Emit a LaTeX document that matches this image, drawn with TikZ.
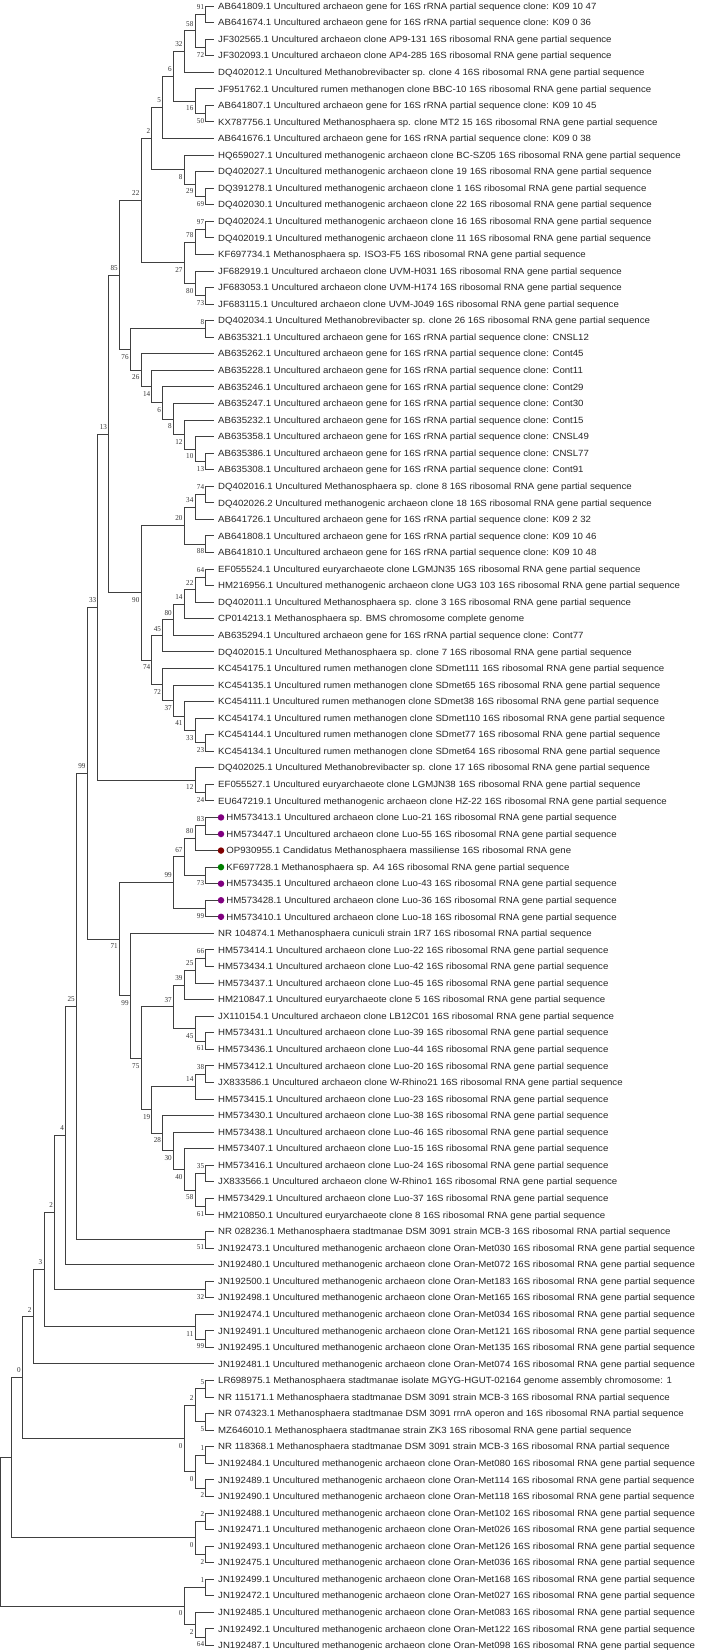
\documentclass[tikz,border=0pt]{standalone}
\usepackage{fontspec}
\newfontfamily\leaffont[FakeStretch=1.07]{Liberation Sans}
\newfontfamily\bsfont[FakeStretch=0.95]{Liberation Serif}
\usetikzlibrary{positioning}
\definecolor{luopurple}{RGB}{128,0,128}
\definecolor{massred}{RGB}{128,0,0}
\definecolor{afourgreen}{RGB}{0,128,0}
% x of an inner node from its height above the leaves
\newcommand{\hx}[1]{{0.8+10.79*(20-#1)}}

\begin{document}
\begin{tikzpicture}[x=1pt, y=-16.56pt,
leaf/.style={anchor=west, inner xsep=4pt, inner ysep=0pt, text height=6.4pt, text depth=0pt, font=\leaffont\fontsize{9}{10}\selectfont, text=black!85},
bs/.style={inner sep=0pt, text height=5pt, text depth=0pt, font=\bsfont\fontsize{7.5}{8}\selectfont, text=black!80},
bsa/.style={bs, anchor=south east, xshift=-1.5pt, yshift=4.5pt},
bsb/.style={bs, anchor=north east, xshift=-1.5pt, yshift=-4.5pt},
dot/.style={circle, inner sep=0pt, minimum size=6.5pt},
br/.style={draw=black!75, line width=0.9pt},
]
\useasboundingbox (0,0.6377) rectangle (706,100.396);

%Leaves
\node[leaf] (L1) at (214,1) {AB641809.1 Uncultured archaeon gene for 16S rRNA partial sequence clone: K09 10 47};
\node[leaf] (L2) at (214,2) {AB641674.1 Uncultured archaeon gene for 16S rRNA partial sequence clone: K09 0 36};
\node[leaf] (L3) at (214,3) {JF302565.1 Uncultured archaeon clone AP9-131 16S ribosomal RNA gene partial sequence};
\node[leaf] (L4) at (214,4) {JF302093.1 Uncultured archaeon clone AP4-285 16S ribosomal RNA gene partial sequence};
\node[leaf] (L5) at (214,5) {DQ402012.1 Uncultured Methanobrevibacter sp. clone 4 16S ribosomal RNA gene partial sequence};
\node[leaf] (L6) at (214,6) {JF951762.1 Uncultured rumen methanogen clone BBC-10 16S ribosomal RNA gene partial sequence};
\node[leaf] (L7) at (214,7) {AB641807.1 Uncultured archaeon gene for 16S rRNA partial sequence clone: K09 10 45};
\node[leaf] (L8) at (214,8) {KX787756.1 Uncultured Methanosphaera sp. clone MT2 15 16S ribosomal RNA gene partial sequence};
\node[leaf] (L9) at (214,9) {AB641676.1 Uncultured archaeon gene for 16S rRNA partial sequence clone: K09 0 38};
\node[leaf] (L10) at (214,10) {HQ659027.1 Uncultured methanogenic archaeon clone BC-SZ05 16S ribosomal RNA gene partial sequence};
\node[leaf] (L11) at (214,11) {DQ402027.1 Uncultured methanogenic archaeon clone 19 16S ribosomal RNA gene partial sequence};
\node[leaf] (L12) at (214,12) {DQ391278.1 Uncultured methanogenic archaeon clone 1 16S ribosomal RNA gene partial sequence};
\node[leaf] (L13) at (214,13) {DQ402030.1 Uncultured methanogenic archaeon clone 22 16S ribosomal RNA gene partial sequence};
\node[leaf] (L14) at (214,14) {DQ402024.1 Uncultured methanogenic archaeon clone 16 16S ribosomal RNA gene partial sequence};
\node[leaf] (L15) at (214,15) {DQ402019.1 Uncultured methanogenic archaeon clone 11 16S ribosomal RNA gene partial sequence};
\node[leaf] (L16) at (214,16) {KF697734.1 Methanosphaera sp. ISO3-F5 16S ribosomal RNA gene partial sequence};
\node[leaf] (L17) at (214,17) {JF682919.1 Uncultured archaeon clone UVM-H031 16S ribosomal RNA gene partial sequence};
\node[leaf] (L18) at (214,18) {JF683053.1 Uncultured archaeon clone UVM-H174 16S ribosomal RNA gene partial sequence};
\node[leaf] (L19) at (214,19) {JF683115.1 Uncultured archaeon clone UVM-J049 16S ribosomal RNA gene partial sequence};
\node[leaf] (L20) at (214,20) {DQ402034.1 Uncultured Methanobrevibacter sp. clone 26 16S ribosomal RNA gene partial sequence};
\node[leaf] (L21) at (214,21) {AB635321.1 Uncultured archaeon gene for 16S rRNA partial sequence clone: CNSL12};
\node[leaf] (L22) at (214,22) {AB635262.1 Uncultured archaeon gene for 16S rRNA partial sequence clone: Cont45};
\node[leaf] (L23) at (214,23) {AB635228.1 Uncultured archaeon gene for 16S rRNA partial sequence clone: Cont11};
\node[leaf] (L24) at (214,24) {AB635246.1 Uncultured archaeon gene for 16S rRNA partial sequence clone: Cont29};
\node[leaf] (L25) at (214,25) {AB635247.1 Uncultured archaeon gene for 16S rRNA partial sequence clone: Cont30};
\node[leaf] (L26) at (214,26) {AB635232.1 Uncultured archaeon gene for 16S rRNA partial sequence clone: Cont15};
\node[leaf] (L27) at (214,27) {AB635358.1 Uncultured archaeon gene for 16S rRNA partial sequence clone: CNSL49};
\node[leaf] (L28) at (214,28) {AB635386.1 Uncultured archaeon gene for 16S rRNA partial sequence clone: CNSL77};
\node[leaf] (L29) at (214,29) {AB635308.1 Uncultured archaeon gene for 16S rRNA partial sequence clone: Cont91};
\node[leaf] (L30) at (214,30) {DQ402016.1 Uncultured Methanosphaera sp. clone 8 16S ribosomal RNA gene partial sequence};
\node[leaf] (L31) at (214,31) {DQ402026.2 Uncultured methanogenic archaeon clone 18 16S ribosomal RNA gene partial sequence};
\node[leaf] (L32) at (214,32) {AB641726.1 Uncultured archaeon gene for 16S rRNA partial sequence clone: K09 2 32};
\node[leaf] (L33) at (214,33) {AB641808.1 Uncultured archaeon gene for 16S rRNA partial sequence clone: K09 10 46};
\node[leaf] (L34) at (214,34) {AB641810.1 Uncultured archaeon gene for 16S rRNA partial sequence clone: K09 10 48};
\node[leaf] (L35) at (214,35) {EF055524.1 Uncultured euryarchaeote clone LGMJN35 16S ribosomal RNA gene partial sequence};
\node[leaf] (L36) at (214,36) {HM216956.1 Uncultured methanogenic archaeon clone UG3 103 16S ribosomal RNA gene partial sequence};
\node[leaf] (L37) at (214,37) {DQ402011.1 Uncultured Methanosphaera sp. clone 3 16S ribosomal RNA gene partial sequence};
\node[leaf] (L38) at (214,38) {CP014213.1 Methanosphaera sp. BMS chromosome complete genome};
\node[leaf] (L39) at (214,39) {AB635294.1 Uncultured archaeon gene for 16S rRNA partial sequence clone: Cont77};
\node[leaf] (L40) at (214,40) {DQ402015.1 Uncultured Methanosphaera sp. clone 7 16S ribosomal RNA gene partial sequence};
\node[leaf] (L41) at (214,41) {KC454175.1 Uncultured rumen methanogen clone SDmet111 16S ribosomal RNA gene partial sequence};
\node[leaf] (L42) at (214,42) {KC454135.1 Uncultured rumen methanogen clone SDmet65 16S ribosomal RNA gene partial sequence};
\node[leaf] (L43) at (214,43) {KC454111.1 Uncultured rumen methanogen clone SDmet38 16S ribosomal RNA gene partial sequence};
\node[leaf] (L44) at (214,44) {KC454174.1 Uncultured rumen methanogen clone SDmet110 16S ribosomal RNA gene partial sequence};
\node[leaf] (L45) at (214,45) {KC454144.1 Uncultured rumen methanogen clone SDmet77 16S ribosomal RNA gene partial sequence};
\node[leaf] (L46) at (214,46) {KC454134.1 Uncultured rumen methanogen clone SDmet64 16S ribosomal RNA gene partial sequence};
\node[leaf] (L47) at (214,47) {DQ402025.1 Uncultured Methanobrevibacter sp. clone 17 16S ribosomal RNA gene partial sequence};
\node[leaf] (L48) at (214,48) {EF055527.1 Uncultured euryarchaeote clone LGMJN38 16S ribosomal RNA gene partial sequence};
\node[leaf] (L49) at (214,49) {EU647219.1 Uncultured methanogenic archaeon clone HZ-22 16S ribosomal RNA gene partial sequence};
\node[dot, fill=luopurple] (D50) at (221,50) {};
\node[leaf, right=0pt of D50, inner xsep=1.8pt] (L50) {HM573413.1 Uncultured archaeon clone Luo-21 16S ribosomal RNA gene partial sequence};
\node[dot, fill=luopurple] (D51) at (221,51) {};
\node[leaf, right=0pt of D51, inner xsep=1.8pt] (L51) {HM573447.1 Uncultured archaeon clone Luo-55 16S ribosomal RNA gene partial sequence};
\node[dot, fill=massred] (D52) at (221,52) {};
\node[leaf, right=0pt of D52, inner xsep=1.8pt] (L52) {OP930955.1 Candidatus Methanosphaera massiliense 16S ribosomal RNA gene};
\node[dot, fill=afourgreen] (D53) at (221,53) {};
\node[leaf, right=0pt of D53, inner xsep=1.8pt] (L53) {KF697728.1 Methanosphaera sp. A4 16S ribosomal RNA gene partial sequence};
\node[dot, fill=luopurple] (D54) at (221,54) {};
\node[leaf, right=0pt of D54, inner xsep=1.8pt] (L54) {HM573435.1 Uncultured archaeon clone Luo-43 16S ribosomal RNA gene partial sequence};
\node[dot, fill=luopurple] (D55) at (221,55) {};
\node[leaf, right=0pt of D55, inner xsep=1.8pt] (L55) {HM573428.1 Uncultured archaeon clone Luo-36 16S ribosomal RNA gene partial sequence};
\node[dot, fill=luopurple] (D56) at (221,56) {};
\node[leaf, right=0pt of D56, inner xsep=1.8pt] (L56) {HM573410.1 Uncultured archaeon clone Luo-18 16S ribosomal RNA gene partial sequence};
\node[leaf] (L57) at (214,57) {NR 104874.1 Methanosphaera cuniculi strain 1R7 16S ribosomal RNA partial sequence};
\node[leaf] (L58) at (214,58) {HM573414.1 Uncultured archaeon clone Luo-22 16S ribosomal RNA gene partial sequence};
\node[leaf] (L59) at (214,59) {HM573434.1 Uncultured archaeon clone Luo-42 16S ribosomal RNA gene partial sequence};
\node[leaf] (L60) at (214,60) {HM573437.1 Uncultured archaeon clone Luo-45 16S ribosomal RNA gene partial sequence};
\node[leaf] (L61) at (214,61) {HM210847.1 Uncultured euryarchaeote clone 5 16S ribosomal RNA gene partial sequence};
\node[leaf] (L62) at (214,62) {JX110154.1 Uncultured archaeon clone LB12C01 16S ribosomal RNA gene partial sequence};
\node[leaf] (L63) at (214,63) {HM573431.1 Uncultured archaeon clone Luo-39 16S ribosomal RNA gene partial sequence};
\node[leaf] (L64) at (214,64) {HM573436.1 Uncultured archaeon clone Luo-44 16S ribosomal RNA gene partial sequence};
\node[leaf] (L65) at (214,65) {HM573412.1 Uncultured archaeon clone Luo-20 16S ribosomal RNA gene partial sequence};
\node[leaf] (L66) at (214,66) {JX833586.1 Uncultured archaeon clone W-Rhino21 16S ribosomal RNA gene partial sequence};
\node[leaf] (L67) at (214,67) {HM573415.1 Uncultured archaeon clone Luo-23 16S ribosomal RNA gene partial sequence};
\node[leaf] (L68) at (214,68) {HM573430.1 Uncultured archaeon clone Luo-38 16S ribosomal RNA gene partial sequence};
\node[leaf] (L69) at (214,69) {HM573438.1 Uncultured archaeon clone Luo-46 16S ribosomal RNA gene partial sequence};
\node[leaf] (L70) at (214,70) {HM573407.1 Uncultured archaeon clone Luo-15 16S ribosomal RNA gene partial sequence};
\node[leaf] (L71) at (214,71) {HM573416.1 Uncultured archaeon clone Luo-24 16S ribosomal RNA gene partial sequence};
\node[leaf] (L72) at (214,72) {JX833566.1 Uncultured archaeon clone W-Rhino1 16S ribosomal RNA gene partial sequence};
\node[leaf] (L73) at (214,73) {HM573429.1 Uncultured archaeon clone Luo-37 16S ribosomal RNA gene partial sequence};
\node[leaf] (L74) at (214,74) {HM210850.1 Uncultured euryarchaeote clone 8 16S ribosomal RNA gene partial sequence};
\node[leaf] (L75) at (214,75) {NR 028236.1 Methanosphaera stadtmanae DSM 3091 strain MCB-3 16S ribosomal RNA partial sequence};
\node[leaf] (L76) at (214,76) {JN192473.1 Uncultured methanogenic archaeon clone Oran-Met030 16S ribosomal RNA gene partial sequence};
\node[leaf] (L77) at (214,77) {JN192480.1 Uncultured methanogenic archaeon clone Oran-Met072 16S ribosomal RNA gene partial sequence};
\node[leaf] (L78) at (214,78) {JN192500.1 Uncultured methanogenic archaeon clone Oran-Met183 16S ribosomal RNA gene partial sequence};
\node[leaf] (L79) at (214,79) {JN192498.1 Uncultured methanogenic archaeon clone Oran-Met165 16S ribosomal RNA gene partial sequence};
\node[leaf] (L80) at (214,80) {JN192474.1 Uncultured methanogenic archaeon clone Oran-Met034 16S ribosomal RNA gene partial sequence};
\node[leaf] (L81) at (214,81) {JN192491.1 Uncultured methanogenic archaeon clone Oran-Met121 16S ribosomal RNA gene partial sequence};
\node[leaf] (L82) at (214,82) {JN192495.1 Uncultured methanogenic archaeon clone Oran-Met135 16S ribosomal RNA gene partial sequence};
\node[leaf] (L83) at (214,83) {JN192481.1 Uncultured methanogenic archaeon clone Oran-Met074 16S ribosomal RNA gene partial sequence};
\node[leaf] (L84) at (214,84) {LR698975.1 Methanosphaera stadtmanae isolate MGYG-HGUT-02164 genome assembly chromosome: 1};
\node[leaf] (L85) at (214,85) {NR 115171.1 Methanosphaera stadtmanae DSM 3091 strain MCB-3 16S ribosomal RNA partial sequence};
\node[leaf] (L86) at (214,86) {NR 074323.1 Methanosphaera stadtmanae DSM 3091 rrnA operon and 16S ribosomal RNA partial sequence};
\node[leaf] (L87) at (214,87) {MZ646010.1 Methanosphaera stadtmanae strain ZK3 16S ribosomal RNA gene partial sequence};
\node[leaf] (L88) at (214,88) {NR 118368.1 Methanosphaera stadtmanae DSM 3091 strain MCB-3 16S ribosomal RNA partial sequence};
\node[leaf] (L89) at (214,89) {JN192484.1 Uncultured methanogenic archaeon clone Oran-Met080 16S ribosomal RNA gene partial sequence};
\node[leaf] (L90) at (214,90) {JN192489.1 Uncultured methanogenic archaeon clone Oran-Met114 16S ribosomal RNA gene partial sequence};
\node[leaf] (L91) at (214,91) {JN192490.1 Uncultured methanogenic archaeon clone Oran-Met118 16S ribosomal RNA gene partial sequence};
\node[leaf] (L92) at (214,92) {JN192488.1 Uncultured methanogenic archaeon clone Oran-Met102 16S ribosomal RNA gene partial sequence};
\node[leaf] (L93) at (214,93) {JN192471.1 Uncultured methanogenic archaeon clone Oran-Met026 16S ribosomal RNA gene partial sequence};
\node[leaf] (L94) at (214,94) {JN192493.1 Uncultured methanogenic archaeon clone Oran-Met126 16S ribosomal RNA gene partial sequence};
\node[leaf] (L95) at (214,95) {JN192475.1 Uncultured methanogenic archaeon clone Oran-Met036 16S ribosomal RNA gene partial sequence};
\node[leaf] (L96) at (214,96) {JN192499.1 Uncultured methanogenic archaeon clone Oran-Met168 16S ribosomal RNA gene partial sequence};
\node[leaf] (L97) at (214,97) {JN192472.1 Uncultured methanogenic archaeon clone Oran-Met027 16S ribosomal RNA gene partial sequence};
\node[leaf] (L98) at (214,98) {JN192485.1 Uncultured methanogenic archaeon clone Oran-Met083 16S ribosomal RNA gene partial sequence};
\node[leaf] (L99) at (214,99) {JN192492.1 Uncultured methanogenic archaeon clone Oran-Met122 16S ribosomal RNA gene partial sequence};
\node[leaf] (L100) at (214,100) {JN192487.1 Uncultured methanogenic archaeon clone Oran-Met098 16S ribosomal RNA gene partial sequence};

%Inner nodes
\coordinate (n91) at (\hx{1},1.5);
\coordinate (n72) at (\hx{1},3.5);
\coordinate (n58) at (\hx{2},2.5);
\coordinate (n32) at (\hx{3},3.75);
\coordinate (n50) at (\hx{1},7.5);
\coordinate (n16) at (\hx{2},6.75);
\coordinate (n6) at (\hx{4},5.25);
\coordinate (n5) at (\hx{5},7.125);
\coordinate (n69) at (\hx{1},12.5);
\coordinate (n29) at (\hx{2},11.75);
\coordinate (n8a) at (\hx{3},10.875);
\coordinate (n2) at (\hx{6},9);
\coordinate (n97) at (\hx{1},14.5);
\coordinate (n78) at (\hx{2},15.25);
\coordinate (n73) at (\hx{1},18.5);
\coordinate (n80) at (\hx{2},17.75);
\coordinate (n27) at (\hx{3},16.5);
\coordinate (n22) at (\hx{7},12.75);
\coordinate (n8b) at (\hx{1},20.5);
\coordinate (n13b) at (\hx{1},28.5);
\coordinate (n10) at (\hx{2},27.75);
\coordinate (n12) at (\hx{3},26.875);
\coordinate (n8c) at (\hx{4},25.9375);
\coordinate (n6b) at (\hx{5},24.969);
\coordinate (n14) at (\hx{6},23.984);
\coordinate (n26) at (\hx{7},22.992);
\coordinate (n76) at (\hx{8},21.746);
\coordinate (n85) at (\hx{9},17.248);
\coordinate (n74a) at (\hx{1},30.5);
\coordinate (n34) at (\hx{2},31.25);
\coordinate (n88) at (\hx{1},33.5);
\coordinate (n20) at (\hx{3},32.375);
\coordinate (n64) at (\hx{1},35.5);
\coordinate (n22b) at (\hx{2},36.25);
\coordinate (n14b) at (\hx{3},37.125);
\coordinate (n80b) at (\hx{4},38.0625);
\coordinate (n45) at (\hx{5},39.031);
\coordinate (n23) at (\hx{1},45.5);
\coordinate (n33) at (\hx{2},44.75);
\coordinate (n41) at (\hx{3},43.875);
\coordinate (n37) at (\hx{4},42.9375);
\coordinate (n72b) at (\hx{5},41.969);
\coordinate (n74b) at (\hx{6},40.5);
\coordinate (n90) at (\hx{7},36.4375);
\coordinate (n13) at (\hx{10},26.843);
\coordinate (n24) at (\hx{1},48.5);
\coordinate (n12b) at (\hx{2},47.75);
\coordinate (n33t) at (\hx{11},37.296);
\coordinate (n83) at (\hx{1},50.5);
\coordinate (n80c) at (\hx{2},51.25);
\coordinate (n73b) at (\hx{1},53.5);
\coordinate (n67) at (\hx{3},52.375);
\coordinate (n99d) at (\hx{1},55.5);
\coordinate (n99b) at (\hx{4},53.9375);
\coordinate (n66) at (\hx{1},58.5);
\coordinate (n25) at (\hx{2},59.25);
\coordinate (n39) at (\hx{3},60.125);
\coordinate (n61) at (\hx{1},63.5);
\coordinate (n45b) at (\hx{2},62.75);
\coordinate (n37b) at (\hx{4},61.4375);
\coordinate (n38) at (\hx{1},65.5);
\coordinate (n14c) at (\hx{2},66.25);
\coordinate (n35) at (\hx{1},71.5);
\coordinate (n61b) at (\hx{1},73.5);
\coordinate (n58b) at (\hx{2},72.5);
\coordinate (n40) at (\hx{3},71.25);
\coordinate (n30) at (\hx{4},70.125);
\coordinate (n28) at (\hx{5},69.0625);
\coordinate (n19) at (\hx{6},67.656);
\coordinate (n75) at (\hx{7},64.547);
\coordinate (n99c) at (\hx{8},60.773);
\coordinate (n71) at (\hx{9},57.355);
\coordinate (n99t) at (\hx{12},47.326);
\coordinate (n51) at (\hx{1},75.5);
\coordinate (n25t) at (\hx{13},61.413);
\coordinate (n4) at (\hx{14},69.207);
\coordinate (n32b) at (\hx{1},78.5);
\coordinate (n2b) at (\hx{15},73.853);
\coordinate (n99e) at (\hx{1},81.5);
\coordinate (n11) at (\hx{2},80.75);
\coordinate (n3) at (\hx{16},77.302);
\coordinate (n2c) at (\hx{17},80.151);
\coordinate (n5a) at (\hx{1},84.5);
\coordinate (n5b) at (\hx{1},86.5);
\coordinate (n2d) at (\hx{2},85.5);
\coordinate (n1) at (\hx{1},88.5);
\coordinate (n2e) at (\hx{1},90.5);
\coordinate (n0b) at (\hx{2},89.5);
\coordinate (n0) at (\hx{3},87.5);
\coordinate (nB) at (\hx{18},83.826);
\coordinate (n2g) at (\hx{1},92.5);
\coordinate (n2h) at (\hx{1},94.5);
\coordinate (n0d) at (\hx{2},93.5);
\coordinate (nA) at (\hx{19},88.663);
\coordinate (n1b) at (\hx{1},96.5);
\coordinate (n64b) at (\hx{1},99.5);
\coordinate (n2f) at (\hx{2},98.75);
\coordinate (n0c) at (\hx{3},97.625);
\coordinate (root) at (\hx{20},93.144);

%Branches
\path[br] (n91) |- (L1.west) (n91) |- (L2.west)
  (n72) |- (L3.west) (n72) |- (L4.west)
  (n58) |- (n91) (n58) |- (n72)
  (n32) |- (n58) (n32) |- (L5.west)
  (n50) |- (L7.west) (n50) |- (L8.west)
  (n16) |- (L6.west) (n16) |- (n50)
  (n6) |- (n32) (n6) |- (n16)
  (n5) |- (n6) (n5) |- (L9.west)
  (n69) |- (L12.west) (n69) |- (L13.west)
  (n29) |- (L11.west) (n29) |- (n69)
  (n8a) |- (L10.west) (n8a) |- (n29)
  (n2) |- (n5) (n2) |- (n8a)
  (n97) |- (L14.west) (n97) |- (L15.west)
  (n78) |- (n97) (n78) |- (L16.west)
  (n73) |- (L18.west) (n73) |- (L19.west)
  (n80) |- (L17.west) (n80) |- (n73)
  (n27) |- (n78) (n27) |- (n80)
  (n22) |- (n2) (n22) |- (n27)
  (n8b) |- (L20.west) (n8b) |- (L21.west)
  (n13b) |- (L28.west) (n13b) |- (L29.west)
  (n10) |- (L27.west) (n10) |- (n13b)
  (n12) |- (L26.west) (n12) |- (n10)
  (n8c) |- (L25.west) (n8c) |- (n12)
  (n6b) |- (L24.west) (n6b) |- (n8c)
  (n14) |- (L23.west) (n14) |- (n6b)
  (n26) |- (L22.west) (n26) |- (n14)
  (n76) |- (n8b) (n76) |- (n26)
  (n85) |- (n22) (n85) |- (n76);
\path[br] (n74a) |- (L30.west) (n74a) |- (L31.west)
  (n34) |- (n74a) (n34) |- (L32.west)
  (n88) |- (L33.west) (n88) |- (L34.west)
  (n20) |- (n34) (n20) |- (n88)
  (n64) |- (L35.west) (n64) |- (L36.west)
  (n22b) |- (n64) (n22b) |- (L37.west)
  (n14b) |- (n22b) (n14b) |- (L38.west)
  (n80b) |- (n14b) (n80b) |- (L39.west)
  (n45) |- (n80b) (n45) |- (L40.west)
  (n23) |- (L45.west) (n23) |- (L46.west)
  (n33) |- (L44.west) (n33) |- (n23)
  (n41) |- (L43.west) (n41) |- (n33)
  (n37) |- (L42.west) (n37) |- (n41)
  (n72b) |- (L41.west) (n72b) |- (n37)
  (n74b) |- (n45) (n74b) |- (n72b)
  (n90) |- (n20) (n90) |- (n74b)
  (n13) |- (n85) (n13) |- (n90)
  (n24) |- (L48.west) (n24) |- (L49.west)
  (n12b) |- (L47.west) (n12b) |- (n24)
  (n33t) |- (n13) (n33t) |- (n12b);
\path[br] (n83) |- (D50.west) (n83) |- (D51.west)
  (n80c) |- (n83) (n80c) |- (D52.west)
  (n73b) |- (D53.west) (n73b) |- (D54.west)
  (n67) |- (n80c) (n67) |- (n73b)
  (n99d) |- (D55.west) (n99d) |- (D56.west)
  (n99b) |- (n67) (n99b) |- (n99d)
  (n66) |- (L58.west) (n66) |- (L59.west)
  (n25) |- (n66) (n25) |- (L60.west)
  (n39) |- (n25) (n39) |- (L61.west)
  (n61) |- (L63.west) (n61) |- (L64.west)
  (n45b) |- (L62.west) (n45b) |- (n61)
  (n37b) |- (n39) (n37b) |- (n45b)
  (n38) |- (L65.west) (n38) |- (L66.west)
  (n14c) |- (n38) (n14c) |- (L67.west)
  (n35) |- (L71.west) (n35) |- (L72.west)
  (n61b) |- (L73.west) (n61b) |- (L74.west)
  (n58b) |- (n35) (n58b) |- (n61b)
  (n40) |- (L70.west) (n40) |- (n58b)
  (n30) |- (L69.west) (n30) |- (n40)
  (n28) |- (L68.west) (n28) |- (n30)
  (n19) |- (n14c) (n19) |- (n28)
  (n75) |- (n37b) (n75) |- (n19)
  (n99c) |- (L57.west) (n99c) |- (n75)
  (n71) |- (n99b) (n71) |- (n99c)
  (n99t) |- (n33t) (n99t) |- (n71);
\path[br] (n51) |- (L75.west) (n51) |- (L76.west)
  (n25t) |- (n99t) (n25t) |- (n51)
  (n4) |- (n25t) (n4) |- (L77.west)
  (n32b) |- (L78.west) (n32b) |- (L79.west)
  (n2b) |- (n4) (n2b) |- (n32b)
  (n99e) |- (L81.west) (n99e) |- (L82.west)
  (n11) |- (L80.west) (n11) |- (n99e)
  (n3) |- (n2b) (n3) |- (n11)
  (n2c) |- (n3) (n2c) |- (L83.west)
  (n5a) |- (L84.west) (n5a) |- (L85.west)
  (n5b) |- (L86.west) (n5b) |- (L87.west)
  (n2d) |- (n5a) (n2d) |- (n5b)
  (n1) |- (L88.west) (n1) |- (L89.west)
  (n2e) |- (L90.west) (n2e) |- (L91.west)
  (n0b) |- (n1) (n0b) |- (n2e)
  (n0) |- (n2d) (n0) |- (n0b)
  (nB) |- (n2c) (nB) |- (n0)
  (n2g) |- (L92.west) (n2g) |- (L93.west)
  (n2h) |- (L94.west) (n2h) |- (L95.west)
  (n0d) |- (n2g) (n0d) |- (n2h)
  (nA) |- (nB) (nA) |- (n0d)
  (n1b) |- (L96.west) (n1b) |- (L97.west)
  (n64b) |- (L99.west) (n64b) |- (L100.west)
  (n2f) |- (L98.west) (n2f) |- (n64b)
  (n0c) |- (n1b) (n0c) |- (n2f)
  (root) |- (nA) (root) |- (n0c);

%Bootstrap values
\node[bsa] (b91) at (n91) {91};
\node[bsb] (b72) at (n72) {72};
\node[bsa] (b58) at (n58) {58};
\node[bsa] (b32) at (n32) {32};
\node[bsb] (b50) at (n50) {50};
\node[bsb] (b16) at (n16) {16};
\node[bsa] (b6) at (n6) {6};
\node[bsa] (b5) at (n5) {5};
\node[bsb] (b69) at (n69) {69};
\node[bsb] (b29) at (n29) {29};
\node[bsb] (b8a) at (n8a) {8};
\node[bsa] (b2) at (n2) {2};
\node[bsa] (b97) at (n97) {97};
\node[bsa] (b78) at (n78) {78};
\node[bsb] (b73) at (n73) {73};
\node[bsb] (b80) at (n80) {80};
\node[bsb] (b27) at (n27) {27};
\node[bsa] (b22) at (n22) {22};
\node[bsa] (b8b) at (n8b) {8};
\node[bsb] (b13b) at (n13b) {13};
\node[bsb] (b10) at (n10) {10};
\node[bsb] (b12) at (n12) {12};
\node[bsb] (b8c) at (n8c) {8};
\node[bsb] (b6b) at (n6b) {6};
\node[bsb] (b14) at (n14) {14};
\node[bsb] (b26) at (n26) {26};
\node[bsb] (b76) at (n76) {76};
\node[bsa] (b85) at (n85) {85};
\node[bsa] (b74a) at (n74a) {74};
\node[bsa] (b34) at (n34) {34};
\node[bsb] (b88) at (n88) {88};
\node[bsa] (b20) at (n20) {20};
\node[bsa] (b64) at (n64) {64};
\node[bsa] (b22b) at (n22b) {22};
\node[bsa] (b14b) at (n14b) {14};
\node[bsa] (b80b) at (n80b) {80};
\node[bsa] (b45) at (n45) {45};
\node[bsb] (b23) at (n23) {23};
\node[bsb] (b33) at (n33) {33};
\node[bsb] (b41) at (n41) {41};
\node[bsb] (b37) at (n37) {37};
\node[bsb] (b72b) at (n72b) {72};
\node[bsb] (b74b) at (n74b) {74};
\node[bsb] (b90) at (n90) {90};
\node[bsa] (b13) at (n13) {13};
\node[bsb] (b24) at (n24) {24};
\node[bsb] (b12b) at (n12b) {12};
\node[bsa] (b33t) at (n33t) {33};
\node[bsa] (b83) at (n83) {83};
\node[bsa] (b80c) at (n80c) {80};
\node[bsb] (b73b) at (n73b) {73};
\node[bsa] (b67) at (n67) {67};
\node[bsb] (b99d) at (n99d) {99};
\node[bsa] (b99b) at (n99b) {99};
\node[bsa] (b66) at (n66) {66};
\node[bsa] (b25) at (n25) {25};
\node[bsa] (b39) at (n39) {39};
\node[bsb] (b61) at (n61) {61};
\node[bsb] (b45b) at (n45b) {45};
\node[bsa] (b37b) at (n37b) {37};
\node[bsa] (b38) at (n38) {38};
\node[bsa] (b14c) at (n14c) {14};
\node[bsa] (b35) at (n35) {35};
\node[bsb] (b61b) at (n61b) {61};
\node[bsb] (b58b) at (n58b) {58};
\node[bsb] (b40) at (n40) {40};
\node[bsb] (b30) at (n30) {30};
\node[bsb] (b28) at (n28) {28};
\node[bsb] (b19) at (n19) {19};
\node[bsb] (b75) at (n75) {75};
\node[bsb] (b99c) at (n99c) {99};
\node[bsb] (b71) at (n71) {71};
\node[bsa] (b99t) at (n99t) {99};
\node[bsb] (b51) at (n51) {51};
\node[bsa] (b25t) at (n25t) {25};
\node[bsa] (b4) at (n4) {4};
\node[bsb] (b32b) at (n32b) {32};
\node[bsa] (b2b) at (n2b) {2};
\node[bsb] (b99e) at (n99e) {99};
\node[bsb] (b11) at (n11) {11};
\node[bsa] (b3) at (n3) {3};
\node[bsa] (b2c) at (n2c) {2};
\node[bsa] (b5a) at (n5a) {5};
\node[bsb] (b5b) at (n5b) {5};
\node[bsa] (b2d) at (n2d) {2};
\node[bsa] (b1) at (n1) {1};
\node[bsb] (b2e) at (n2e) {2};
\node[bsb] (b0b) at (n0b) {0};
\node[bsb] (b0) at (n0) {0};
\node[bsa] (bB) at (nB) {0};
\node[bsa] (b2g) at (n2g) {2};
\node[bsb] (b2h) at (n2h) {2};
\node[bsb] (b0d) at (n0d) {0};
\node[bsa] (b1b) at (n1b) {1};
\node[bsb] (b64b) at (n64b) {64};
\node[bsb] (b2f) at (n2f) {2};
\node[bsb] (b0c) at (n0c) {0};
\end{tikzpicture}
\end{document}
